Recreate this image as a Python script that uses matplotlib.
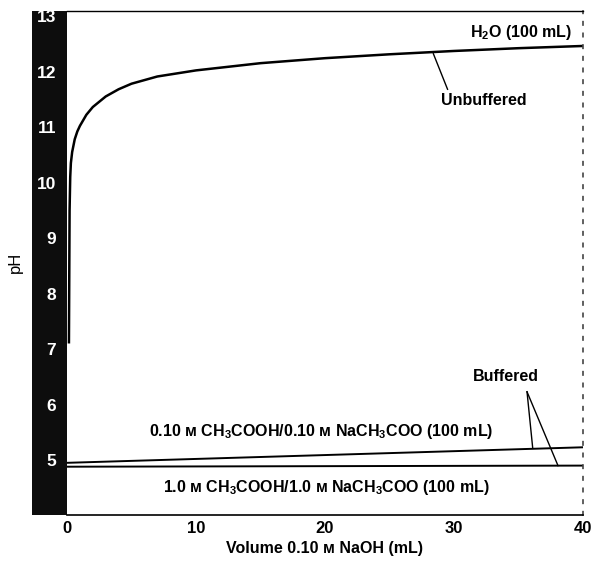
import numpy as np
import matplotlib.pyplot as plt
from matplotlib.patches import Rectangle

plt.rcParams['font.family'] = ['Liberation Sans', 'DejaVu Sans']
plt.rcParams['mathtext.fontset'] = 'custom'
plt.rcParams['mathtext.bf'] = 'Liberation Sans:bold'
plt.rcParams['mathtext.rm'] = 'Liberation Sans'
plt.rcParams['mathtext.default'] = 'bf'

# values
unbuf_vol = [0.15, 0.2, 0.25, 0.3, 0.4, 0.6, 0.8, 1, 1.5, 2, 3, 4, 5, 7, 10, 15, 20, 25, 30, 35, 40]
unbuf_ph = [7.1, 9.5, 10.1, 10.35, 10.55, 10.78, 10.92, 11.02, 11.22, 11.36, 11.55, 11.68, 11.78, 11.91, 12.02, 12.15, 12.24, 12.31, 12.37, 12.42, 12.46]

buf01_vol = [0, 10, 20, 30, 40]
buf01_ph = [4.95, 5.02, 5.09, 5.16, 5.23]

buf10_vol = [0, 10, 20, 30, 40]
buf10_ph = [4.88, 4.885, 4.89, 4.895, 4.90]

x_ticks = [0, 10, 20, 30, 40]
y_ticks = [5, 6, 7, 8, 9, 10, 11, 12, 13]

fig = plt.figure(figsize=(5.95, 5.64), dpi=100)
ax = fig.add_axes([67 / 595, 1 - 515 / 564, 516 / 595, 504 / 564])

ax.plot(unbuf_vol, unbuf_ph, color='black', lw=1.8, solid_capstyle='butt')
ax.plot(buf01_vol, buf01_ph, color='black', lw=1.4)
ax.plot(buf10_vol, buf10_ph, color='black', lw=1.4)

ax.set_xlim(0, 40)
ax.set_ylim(4.01, 13.09)
ax.set_xticks(x_ticks)
ax.set_yticks(y_ticks)
ax.tick_params(axis='x', length=0, pad=4, labelsize=12)
ax.tick_params(axis='y', length=0, pad=8, labelsize=12.5, labelcolor='white')
for lbl in ax.get_xticklabels() + ax.get_yticklabels():
    lbl.set_fontweight('bold')

# dark strip behind the pH ticks
ax.add_patch(Rectangle((-35 / 516, 0), 35 / 516, 1, transform=ax.transAxes,
                       facecolor='#0d0d0d', edgecolor='none', clip_on=False, zorder=0))

ax.spines['left'].set_visible(False)
ax.spines['top'].set_linewidth(1.0)
ax.spines['bottom'].set_linewidth(1.2)
ax.spines['right'].set_linestyle((0, (2, 5)))
ax.spines['right'].set_linewidth(1.2)
ax.spines['right'].set_color('#444444')

fig.text(325 / 595, 1 - 548 / 564, 'Volume 0.10 ᴍ NaOH (mL)', fontsize=11.5,
         fontweight='bold', ha='center', va='center')
fig.text(15 / 595, 1 - 262 / 564, 'pH', rotation=90, fontsize=12,
         ha='center', va='center')

tkw = dict(fontsize=11.5, fontweight='bold', color='black')
lkw = dict(color='black', lw=1.0)
ax.text(39.15, 12.71, r'H$_2$O (100 mL)', ha='right', va='center', **tkw)
ax.text(32.3, 11.47, 'Unbuffered', ha='center', va='center', **tkw)
ax.plot([28.4, 29.5], [12.32, 11.68], **lkw)
ax.text(34.0, 6.5, 'Buffered', ha='center', va='center', **tkw)
ax.plot([35.66, 36.1], [6.23, 5.22], **lkw)
ax.plot([35.66, 38.06], [6.23, 4.9], **lkw)
ax.text(19.7, 5.52, r'0.10 ᴍ CH$_3$COOH/0.10 ᴍ NaCH$_3$COO (100 mL)', ha='center', va='center', **tkw)
ax.text(20.1, 4.5, r'1.0 ᴍ CH$_3$COOH/1.0 ᴍ NaCH$_3$COO (100 mL)', ha='center', va='center', **tkw)

fig.savefig('out.png', dpi=100)
